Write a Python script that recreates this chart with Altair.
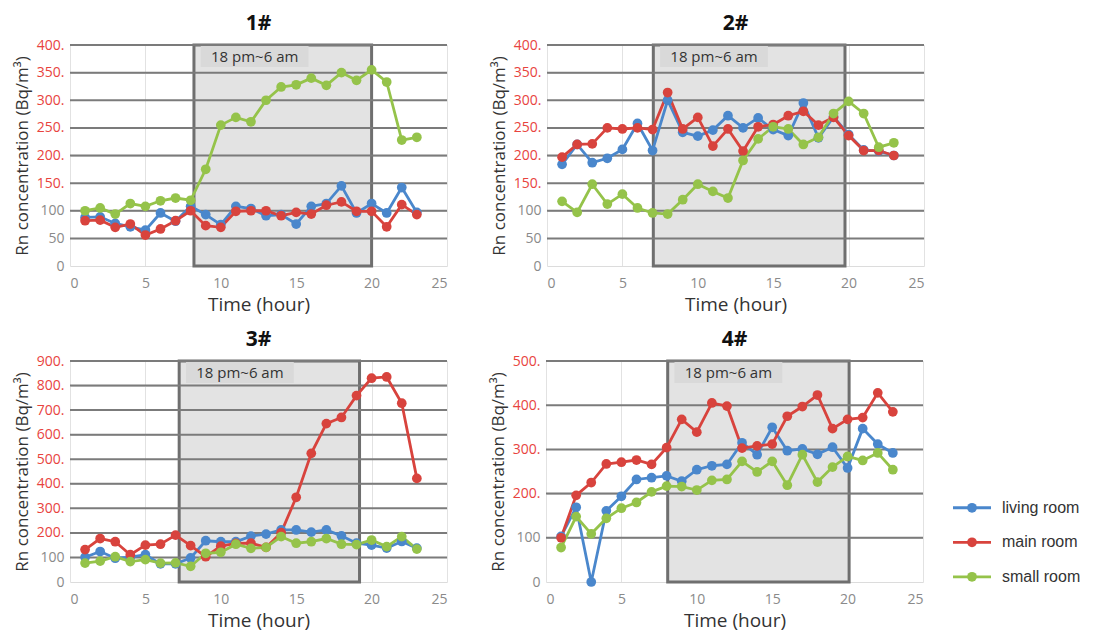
import altair as alt
import pandas as pd

hours = list(range(1, 24))
rooms = ["living room", "main room", "small room"]
room_colors = ["#4a87cc", "#d8433d", "#95c34a"]

# Panel 1#
p1_living = [88, 89, 77, 71, 65, 96, 81, 108, 93, 75, 108, 104, 91, 93, 76, 108, 113, 145, 96, 113, 96, 142, 97]
p1_main = [82, 83, 70, 76, 56, 67, 82, 100, 73, 70, 99, 100, 100, 91, 97, 94, 110, 116, 99, 99, 71, 111, 93]
p1_small = [100, 105, 94, 113, 108, 118, 123, 119, 175, 255, 269, 261, 300, 324, 328, 340, 327, 350, 336, 355, 333, 228, 233]
# Panel 2#
p2_living = [184, 220, 187, 195, 211, 258, 209, 300, 242, 235, 246, 272, 250, 268, 247, 236, 295, 232, 270, 238, 210, 208, 200]
p2_main = [197, 220, 221, 250, 248, 250, 247, 314, 248, 269, 217, 248, 208, 252, 256, 272, 280, 255, 269, 236, 209, 209, 200]
p2_small = [117, 97, 148, 112, 130, 105, 96, 94, 120, 148, 135, 123, 191, 230, 252, 248, 220, 233, 276, 298, 276, 215, 223]
# Panel 3#
p3_living = [101, 124, 97, 101, 111, 74, 74, 98, 168, 164, 164, 187, 195, 212, 212, 203, 212, 188, 158, 150, 138, 165, 138]
p3_main = [132, 177, 164, 111, 150, 154, 191, 148, 103, 146, 157, 158, 141, 201, 345, 524, 645, 670, 759, 830, 835, 728, 422]
p3_small = [77, 85, 103, 83, 91, 77, 78, 64, 117, 121, 154, 137, 141, 185, 158, 164, 177, 154, 152, 171, 144, 185, 134]
# Panel 4#
p4_living = [103, 169, 0, 161, 194, 232, 236, 240, 228, 254, 263, 266, 315, 288, 350, 297, 301, 289, 305, 258, 347, 312, 292]
p4_main = [100, 196, 225, 267, 271, 276, 266, 304, 368, 339, 405, 398, 303, 308, 312, 375, 397, 423, 347, 368, 372, 428, 385]
p4_small = [78, 148, 109, 144, 167, 180, 204, 217, 216, 208, 230, 232, 273, 249, 273, 219, 288, 226, 260, 284, 275, 292, 254]

panel_titles = ["1#", "2#", "3#", "4#"]
panel_ymax = [400, 400, 900, 500]
panel_step = [50, 50, 100, 100]
panel_red_from = [150, 150, 200, 200]
night_start = [8.22, 7.05, 7.24, 8.07]
night_end = [20.0, 19.76, 19.2, 20.1]
night_label = "18 pm~6 am"

series = [
    [p1_living, p1_main, p1_small],
    [p2_living, p2_main, p2_small],
    [p3_living, p3_main, p3_small],
    [p4_living, p4_main, p4_small],
]

FONT = "Open Sans"
W, H = 377, 221


def make_panel(i):
    rows = []
    for r, vals in zip(rooms, series[i]):
        for h, v in zip(hours, vals):
            rows.append({"hour": h, "room": r, "value": v})
    df = pd.DataFrame(rows)
    ymax = panel_ymax[i]
    step = panel_step[i]
    ticks = list(range(0, ymax + 1, step))
    thr = panel_red_from[i]

    xs = alt.Scale(domain=[0, 25], nice=False)
    ys = alt.Scale(domain=[0, ymax], nice=False)

    xaxis = alt.Axis(
        values=[0, 5, 10, 15, 20, 25], title="Time (hour)", grid=True,
        gridColor="#e2e2e2", gridWidth=1, domain=False, ticks=False,
        labelOverlap=False,
        labelColor="#8a8a8a", labelFont=FONT, labelFontSize=14, labelPadding=10,
        titleFont=FONT, titleFontSize=19, titleFontWeight="normal", titleColor="#333333",
        titlePadding=5,
    )
    yaxis = alt.Axis(
        values=ticks, title="Rn concentration (Bq/m³)", grid=True,
        gridColor="#dcdcdc", gridWidth=1, domain=False, ticks=False,
        labelOverlap=False,
        labelExpr=f"datum.value >= {thr} ? datum.label + '.' : datum.label",
        labelColor={"condition": {"test": f"datum.value >= {thr}", "value": "#e8433e"}, "value": "#8a8a8a"},
        labelFont=FONT, labelFontSize=14, labelPadding=6,
        titleFont=FONT, titleFontSize=17, titleFontWeight="normal", titleColor="#333333",
        titlePadding=5,
    )

    def X(field):
        return alt.X(field, scale=xs, axis=xaxis)

    def Y(field):
        return alt.Y(field, scale=ys, axis=yaxis)

    box_df = pd.DataFrame({"x": [night_start[i]], "x2": [night_end[i]], "y": [0], "y2": [ymax]})
    box = alt.Chart(box_df).mark_rect(fill="#e3e3e3", stroke="#6f6f6f", strokeWidth=3).encode(
        x=X("x:Q"), x2="x2:Q", y=Y("y:Q"), y2="y2:Q",
    )

    lab_df = pd.DataFrame({
        "x": [night_start[i] + 0.45], "x2": [night_start[i] + 7.6],
        "y": [ymax * 0.9], "y2": [ymax * 0.995],
        "xm": [night_start[i] + 0.45 + 7.15 / 2], "ym": [ymax * 0.947], "t": [night_label],
    })
    lab_box = alt.Chart(lab_df).mark_rect(fill="#d9d9d9").encode(
        x=X("x:Q"), x2="x2:Q", y=Y("y:Q"), y2="y2:Q"
    )
    lab_text = alt.Chart(lab_df).mark_text(font=FONT, fontSize=15, color="#333333").encode(
        x=X("xm:Q"), y=Y("ym:Q"), text="t:N"
    )

    grid_df = pd.DataFrame({"g": ticks[1:]})
    grid = alt.Chart(grid_df).mark_rule(color="#7b7b7b", strokeWidth=2).encode(
        y=Y("g:Q")
    )

    color = alt.Color("room:N", scale=alt.Scale(domain=rooms, range=room_colors), legend=None)
    lines = alt.Chart(df).mark_line(strokeWidth=2.8).encode(
        x=X("hour:Q"), y=Y("value:Q"), color=color, detail="room:N",
    )
    pts = alt.Chart(df).mark_circle(size=95, opacity=1).encode(
        x=X("hour:Q"), y=Y("value:Q"), color=color,
    )

    return alt.layer(box, lab_box, lab_text, grid, lines, pts).properties(
        width=W, height=H,
        title=alt.TitleParams(panel_titles[i], font="Noto Sans", fontSize=21, fontWeight="bold",
                              color="#111111", offset=4),
    )


leg_df = pd.DataFrame({"room": rooms, "idx": [0, 1, 2]})
leg_y = alt.Y("idx:Q", scale=alt.Scale(domain=[-4.25, 2.15], reverse=True), axis=None)
leg_color = alt.Color("room:N", scale=alt.Scale(domain=rooms, range=room_colors), legend=None)
leg_line = alt.Chart(leg_df).mark_rule(strokeWidth=2.8).encode(
    x=alt.value(0), x2=alt.value(38), y=leg_y, color=leg_color
)
leg_pt = alt.Chart(leg_df).mark_circle(size=95, opacity=1).encode(
    x=alt.value(19), y=leg_y, color=leg_color
)
leg_txt = alt.Chart(leg_df).mark_text(align="left", font="Liberation Sans", fontSize=16, color="#333333").encode(
    x=alt.value(49), y=leg_y, text="room:N"
)
legend = alt.layer(leg_line, leg_pt, leg_txt).properties(width=125, height=H)

row1 = alt.hconcat(make_panel(0), make_panel(1), spacing=42)
row2 = alt.hconcat(make_panel(2), make_panel(3), spacing=41)
full_row2 = alt.hconcat(row2, legend, spacing=27)
chart = alt.vconcat(row1, full_row2, spacing=15).properties(
    padding={"left": 5, "top": 5, "right": 0, "bottom": 0}, background="white"
).configure_view(stroke="transparent", strokeWidth=0)

chart.save("out.html", embed_options={"renderer": "svg", "actions": False})
